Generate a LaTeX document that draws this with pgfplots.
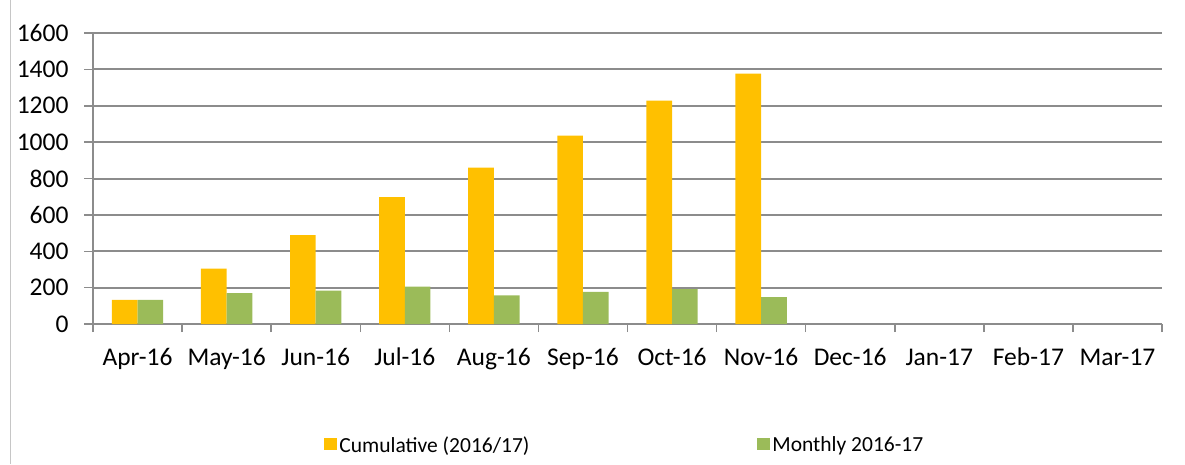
\documentclass[border=0pt]{standalone}
\usepackage{fontspec}
\setmainfont{Carlito}
\usepackage{pgfplots}
\pgfplotsset{compat=1.18}

\definecolor{cumcol}{HTML}{FFC000}
\definecolor{moncol}{HTML}{9BBB59}
\definecolor{gridcol}{HTML}{8C8C8C}

\begin{document}
\begin{tikzpicture}
\useasboundingbox (0,0) rectangle (1185pt,464pt);
\draw[gray!45, line width=1pt] (10pt,0) -- (10pt,464pt);
\begin{axis}[
    at={(93pt,140pt)}, anchor=south west,
    scale only axis,
    width=1069pt, height=291pt,
    xmin=-0.5, xmax=11.5,
    ymin=0, ymax=1600,
    ytick={0,200,...,1600},
    xtick={0,...,11},
    xticklabels={Apr-16,May-16,Jun-16,Jul-16,Aug-16,Sep-16,Oct-16,Nov-16,Dec-16,Jan-17,Feb-17,Mar-17},
    minor xtick={-0.5,0.5,...,11.5},
    major x tick style={draw=none},
    minor x tick style={gridcol, line width=1.5pt},
    major y tick style={gridcol, line width=1.5pt},
    major tick length=9pt, minor tick length=8pt,
    tick align=outside,
    ymajorgrids,
    grid style={gridcol, line width=2pt},
    axis x line*=bottom, axis y line*=left,
    axis line style={gridcol, line width=2pt, -},
    ticklabel style={font=\fontsize{25.5}{30}\selectfont},
    yticklabel style={xshift=-12pt},
    xticklabel style={anchor=north, text height=0.72em, text depth=0.22em, yshift=-22pt},
    /pgf/number format/assume math mode=true,
    /pgf/number format/1000 sep={},
    ybar=0pt, bar width=0.288,
    legend columns=2,
    legend style={at={(0.4975,-0.4158)}, anchor=center, draw=none,
        font=\fontsize{21.5}{25}\selectfont,
        /tikz/every even column/.append style={column sep=226pt}},
    legend image code/.code={\fill[#1] (0pt,-5pt) rectangle (13pt,7pt);},
]
\addplot[fill=cumcol, draw=none] coordinates {
 (0,132) (1,304) (2,489) (3,698) (4,860) (5,1036) (6,1228) (7,1376)};
\addlegendentry{Cumulative (2016/17)}
\addplot[fill=moncol, draw=none] coordinates {
 (0,132) (1,170) (2,183) (3,205) (4,158) (5,176) (6,192) (7,148)};
\addlegendentry{Monthly 2016-17}
\end{axis}
\end{tikzpicture}
\end{document}
